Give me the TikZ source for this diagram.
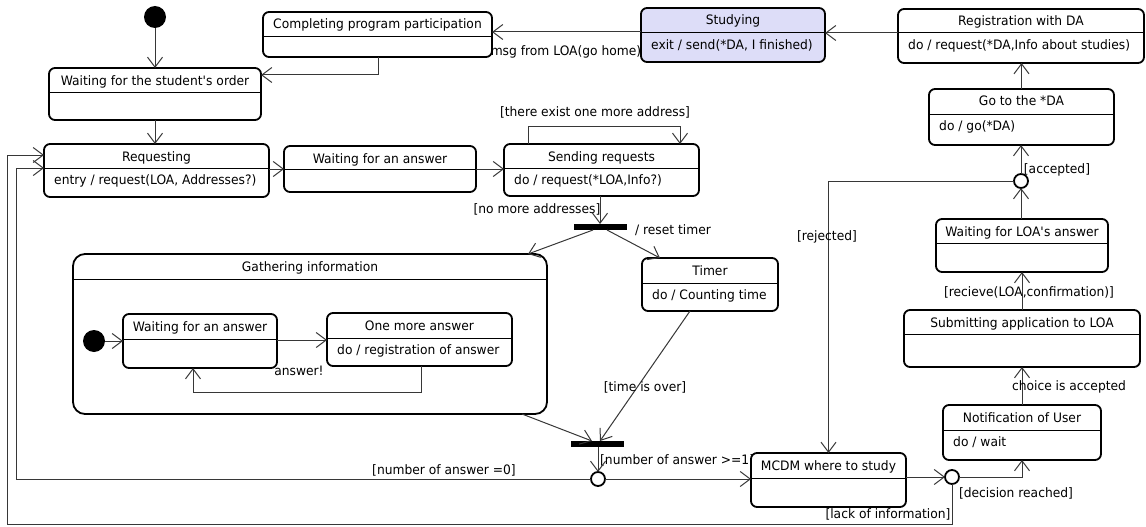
\documentclass[tikz,border=0pt]{standalone}
\usepackage{fontspec}
\setmainfont{DejaVu Sans}[FakeStretch=0.945]
\usetikzlibrary{arrows.meta,calc}

\definecolor{studyfill}{RGB}{221,221,248}
\definecolor{linegray}{RGB}{55,55,55}

\tikzset{
  umlstate/.style={draw=black,line width=1.8pt,rounded corners=6pt,fill=white,inner sep=0pt,outer sep=0pt},
  umlcomposite/.style={umlstate,rounded corners=12pt},
  umldiv/.style={draw=black,line width=1pt},
  umltitle/.style={inner sep=0pt,text height=9pt,text depth=3pt},
  umlbody/.style={umltitle,anchor=west},
  umllbl/.style={inner sep=0pt,text height=9pt,text depth=3pt},
  umlconn/.style={draw=linegray,line width=1pt,-{Straight Barb[length=10pt,width=15pt]}},
  umlbar/.style={fill=black,inner sep=0pt,outer sep=0pt,minimum width=53pt,minimum height=6pt},
  umlinit/.style={circle,fill=black,inner sep=0pt,outer sep=0pt,minimum size=22pt},
  umlchoice/.style={circle,draw=black,line width=1.8pt,fill=white,inner sep=0pt,outer sep=0pt,minimum size=14pt},
}

% state box: [extra style]{name}{x1}{y1}{x2}{y2}{divider y}{title}{activity}
\newcommand{\umlbox}[9][]{%
  \node[umlstate,#1,minimum width={#5-#3},minimum height={#6-#4},anchor=north west] (#2) at (#3,#4) {};
  \draw[umldiv] (#3,#7) -- (#5,#7);
  \node[umltitle] (#2-title) at ({(#3+#5)/2},{#4+14}) {#8};
  \node[umlbody] (#2-body) at ({#3+10},{#7+13}) {#9};
}

\begin{document}
\begin{tikzpicture}[x=1pt,y=-1pt,font=\fontsize{13pt}{15pt}\selectfont]
\useasboundingbox (0,0) rectangle (1146,527);

% guard label whose end runs under the MCDM box
\node[umllbl,anchor=west] (l-ge1) at (600,461) {[number of answer >=1]};

% ---- states ----
\umlbox{cpp}{263}{12}{492}{57}{37}{Completing program participation}{}
\umlbox{wso}{49}{68}{261}{120}{92}{Waiting for the student\textquotesingle s order}{}
\umlbox{req}{44}{144}{269}{197}{168}{Requesting}{entry / request(LOA, Addresses?)}
\umlbox{wfa}{284}{146}{476}{192}{169}{Waiting for an answer}{}
\umlbox{send}{504}{144}{699}{196}{168}{Sending requests}{do / request(*LOA,Info?)}
\umlbox[fill=studyfill]{stud}{641}{8}{825}{62}{33}{Studying}{exit / send(*DA, I finished)}
\umlbox{reg}{898}{9}{1144}{63}{33}{Registration with DA}{do / request(*DA,Info about studies)}
\umlbox{goda}{929}{89}{1114}{145}{114}{Go to the *DA}{do / go(*DA)}
\umlbox{wla}{936}{219}{1108}{272}{243}{Waiting for LOA\textquotesingle s answer}{}
\umlbox{submit}{904}{310}{1140}{367}{334}{Submitting application to LOA}{}
\umlbox{notif}{943}{405}{1101}{460}{430}{Notification of User}{do / wait}
\umlbox{mcdm}{751}{453}{906}{507}{478}{MCDM where to study}{}
\umlbox{timer}{642}{258}{778}{311}{283}{Timer}{do / Counting time}
\umlbox[umlcomposite]{gather}{73}{254}{547}{414}{279}{Gathering information}{}
\umlbox{wfa2}{123}{314}{277}{368}{339}{Waiting for an answer}{}
\umlbox{oma}{327}{313}{512}{366}{338}{One more answer}{do / registration of answer}

% ---- pseudo states ----
\node[umlinit] (init) at (155,17) {};
\node[umlinit] (init2) at (94,341) {};
\node[umlbar] (fork) at (600.5,227) {};
\node[umlbar] (join) at (597.5,444) {};
\node[umlchoice] (c1) at (598,479) {};
\node[umlchoice] (c2) at (952,477) {};
\node[umlchoice] (c3) at (1021,181) {};

\coordinate (k1) at (16,168);
\coordinate (k2) at (193,392);
\coordinate (k3) at (7,524);
\coordinate (k4) at (7,155);

% ---- transitions ----
\draw[umlconn] (init) -- (init |- wso.north);
\draw[umlconn] (cpp.south -| 378,0) |- (wso.east |- 0,75);
\draw[umlconn] (wso.south) -- (wso.south |- req.north);
\draw[umlconn] (req.east |- 0,169) -- (wfa.west |- 0,169);
\draw[umlconn] (wfa.east |- 0,169) -- (send.west |- 0,169);
\draw[umlconn] (send.north -| 528,0) -- ++(0,-18) -| (send.north -| 680,0);
\draw[umlconn] (send.south -| 600,0) -- (fork.north -| 600,0);
\draw[umlconn] (fork.south -| 593,0) -- (gather.north -| 528,0);
\draw[umlconn] (fork.south -| 607,0) -- (timer.north -| 660,0);
\draw[umlconn] (gather.south -| 522,0) -- (join.north -| 592,0);
\draw[umlconn] (timer.south -| 690,0) -- (join.north -| 600,0);
\draw[umlconn] (join.south -| c1) -- (c1.north);
\draw[umlconn] (c1.east) -- (mcdm.west |- c1);
\draw[umlconn] (c1.west) -| (k1) -- (req.west |- k1);

\draw[umlconn] (init2) -- (wfa2.west |- init2);
\draw[umlconn] (wfa2.east |- 0,340) -- (oma.west |- 0,340);
\draw[umlconn] (oma.south -| 421,0) |- (k2) -- (wfa2.south -| k2);

\draw[umlconn] (mcdm.east |- c2) -- (c2.west);
\draw[umlconn] (c2.east) -| (notif.south);
\draw[umlconn] (c2.south) |- (k3) -- (k4) -- (req.west |- k4);
\draw[umlconn] (notif.north) -- (notif.north |- submit.south);
\draw[umlconn] (submit.north) -- (submit.north |- wla.south);
\draw[umlconn] (wla.north -| c3) -- (c3.south);
\draw[umlconn] (c3.north) -- (c3.north |- goda.south);
\draw[umlconn] (c3.west) -| (mcdm.north);
\draw[umlconn] (goda.north) -- (goda.north |- reg.south);
\draw[umlconn] (reg.west |- 0,33) -- (stud.east |- 0,33);
\draw[umlconn] (stud.west |- 0,32) -- (cpp.east |- 0,32);

% ---- transition labels ----
\node[umllbl] (l-home) at (566,53) {msg from LOA(go home)};
\node[umllbl] (l-more) at (595,113) {[there exist one more address]};
\node[umllbl] (l-nomore) at (537,210) {[no more addresses]};
\node[umllbl] (l-reset) at (673,231) {/ reset timer};
\node[umllbl] (l-time) at (645,388) {[time is over]};
\node[umllbl] (l-answer) at (299,372) {answer!};
\node[umllbl] (l-zero) at (444,471) {[number of answer =0]};
\node[umllbl] (l-acc) at (1057,170) {[accepted]};
\node[umllbl] (l-rej) at (827,237) {[rejected]};
\node[umllbl] (l-conf) at (1029,293) {[recieve(LOA,confirmation)]};
\node[umllbl] (l-choice) at (1069,387) {choice is accepted};
\node[umllbl] (l-dec) at (1016,494) {[decision reached]};
\node[umllbl] (l-lack) at (888,515) {[lack of information]};
\end{tikzpicture}
\end{document}
